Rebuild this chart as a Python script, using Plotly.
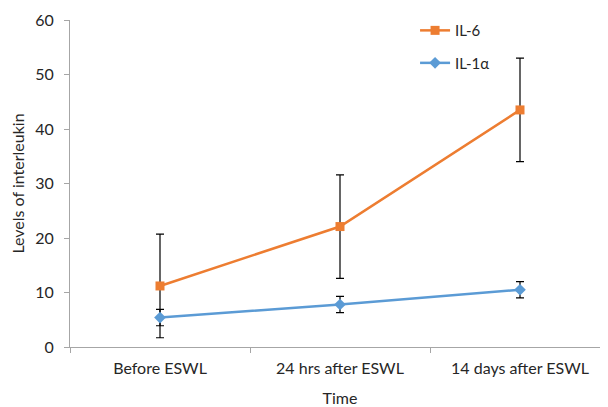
import plotly.graph_objects as go

categories = ["Before ESWL", "24 hrs after ESWL", "14 days after ESWL"]
il6 = [11.2, 22.1, 43.5]
il6_err = [9.5, 9.5, 9.5]
il1a = [5.4, 7.8, 10.5]
il1a_err = [1.5, 1.5, 1.5]

FONT = "Lato"
FS = 16

fig = go.Figure()
fig.add_trace(go.Scatter(
    x=categories, y=il6, name="IL-6", mode="lines+markers",
    line=dict(color="#ED7D31", width=2.5),
    marker=dict(symbol="square", size=9, color="#ED7D31"),
    error_y=dict(type="data", array=il6_err, visible=True, color="black", thickness=1.2, width=4),
    legendgroup="a",
))
fig.add_trace(go.Scatter(
    x=categories, y=il1a, name="IL-1α", mode="lines+markers",
    line=dict(color="#5B9BD5", width=2.5),
    marker=dict(symbol="diamond", size=9, color="#5B9BD5"),
    error_y=dict(type="data", array=il1a_err, visible=True, color="black", thickness=1.2, width=4),
    legendgroup="b",
))

fig.update_layout(
    width=608, height=407,
    margin=dict(l=62, r=6, t=10, b=68),
    paper_bgcolor="white", plot_bgcolor="white",
    font=dict(family=FONT, size=FS, color="#262626"),
    showlegend=True,
    legend=dict(x=0.639, y=1.018, xanchor="left", yanchor="top",
                bgcolor="rgba(0,0,0,0)", tracegroupgap=10,
                font=dict(family=FONT, size=FS-1, color="#262626"),
                traceorder="grouped"),
    xaxis=dict(
        type="category", range=[-0.5, 2.5], automargin=False,
        showline=True, linecolor="#A6A6A6", linewidth=1,
        ticks="outside", tickson="boundaries", ticklen=5, tickcolor="#A6A6A6",
        showgrid=False, zeroline=False, ticklabelstandoff=7,
        title=dict(text="Time", standoff=16, font=dict(family=FONT, size=FS)),
        tickfont=dict(family=FONT, size=FS),
    ),
    yaxis=dict(
        range=[0, 60], dtick=10, automargin=False,
        showline=True, linecolor="#A6A6A6", linewidth=1,
        ticks="outside", ticklen=5, tickcolor="#A6A6A6",
        showgrid=False, zeroline=False, ticklabelstandoff=7,
        title=dict(text="Levels of interleukin", standoff=9, font=dict(family=FONT, size=FS)),
        tickfont=dict(family=FONT, size=FS),
    ),
)

fig.write_html("out.html")
